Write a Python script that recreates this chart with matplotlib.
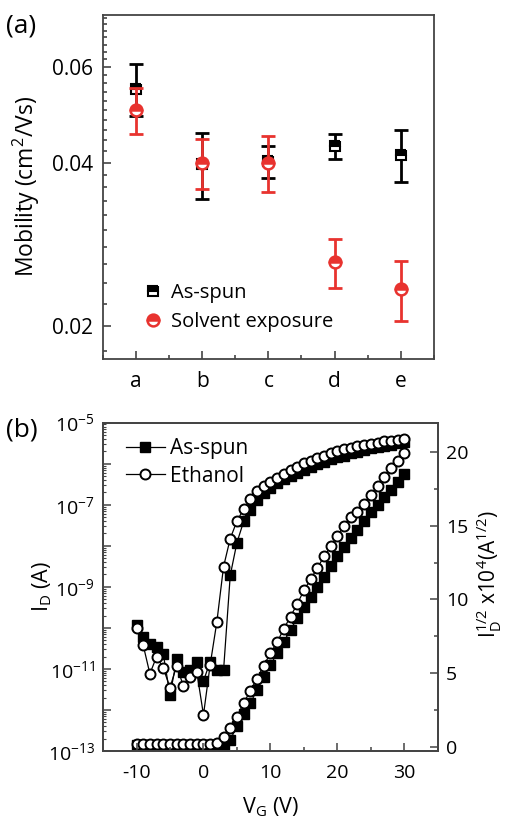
import math
import matplotlib
matplotlib.use("Agg")
import matplotlib.pyplot as plt
from matplotlib.lines import Line2D
from matplotlib.ticker import MultipleLocator, FixedLocator, LogLocator, FuncFormatter, NullFormatter

plt.rcParams['font.family'] = ['Open Sans', 'DejaVu Sans']
plt.rcParams['mathtext.default'] = 'regular'
plt.rcParams['axes.unicode_minus'] = False

# ---- panel (a) data
samples = ['a', 'b', 'c', 'd', 'e']
mob_asspun = [0.0547, 0.0398, 0.0402, 0.0429, 0.0414]
err_asspun = [0.0060, 0.0055, 0.0028, 0.0022, 0.0045]
mob_solvent = [0.0500, 0.0400, 0.0400, 0.0262, 0.0234]
err_solvent = [0.0048, 0.0043, 0.0047, 0.0027, 0.0030]

# ---- panel (b) data
vg = [-10, -9, -8, -7, -6, -5, -4, -3, -2, -1, 0, 1, 2, 3, 4, 5, 6, 7, 8, 9, 10,
      11, 12, 13, 14, 15, 16, 17, 18, 19, 20, 21, 22, 23, 24, 25, 26, 27, 28, 29, 30]
id_asspun = [1.2e-10, 5.9e-11, 4.0e-11, 3.4e-11, 2.3e-11, 2.3e-12, 1.7e-11, 8.3e-12, 9.3e-12,
             1.5e-11, 5.1e-12, 1.5e-11, 9.3e-12, 9.3e-12, 1.9e-9, 1.2e-8, 3.9e-8, 7.4e-8,
             1.3e-7, 1.9e-7, 2.5e-7, 3.3e-7, 4.2e-7, 5.0e-7, 6.0e-7, 7.2e-7, 8.5e-7, 9.8e-7,
             1.12e-6, 1.29e-6, 1.45e-6, 1.58e-6, 1.78e-6, 1.95e-6, 2.14e-6, 2.34e-6, 2.51e-6,
             2.69e-6, 2.88e-6, 3.16e-6, 3.39e-6]
id_ethanol = [9.8e-11, 3.8e-11, 7.6e-12, 2.0e-11, 1.05e-11, 3.5e-12, 1.2e-11, 3.8e-12, 6.2e-12,
              8.5e-12, 7.6e-13, 1.26e-11, 1.4e-10, 3.1e-9, 1.5e-8, 4.0e-8, 7.8e-8, 1.35e-7,
              2.1e-7, 2.8e-7, 3.5e-7, 4.4e-7, 5.6e-7, 7.1e-7, 8.5e-7, 1.02e-6, 1.17e-6, 1.38e-6,
              1.58e-6, 1.78e-6, 2.0e-6, 2.24e-6, 2.45e-6, 2.63e-6, 2.88e-6, 3.09e-6, 3.24e-6,
              3.47e-6, 3.63e-6, 3.80e-6, 3.89e-6]
sqrt_asspun = [0.1, 0.1, 0.1, 0.1, 0.1, 0.1, 0.1, 0.1, 0.1, 0.1, 0.1, 0.1, 0.1, 0.05, 0.45,
               1.4, 2.2, 2.95, 3.85, 4.76, 5.55, 6.34, 7.13, 7.93, 8.72, 9.47, 10.19, 10.87,
               11.55, 12.23, 12.91, 13.52, 14.16, 14.72, 15.29, 15.90, 16.42, 16.98, 17.44,
               18.0, 18.53]
sqrt_ethanol = [0.15, 0.15, 0.15, 0.15, 0.15, 0.15, 0.15, 0.15, 0.15, 0.15, 0.15, 0.15, 0.23,
                0.68, 1.25, 2.04, 2.95, 3.80, 4.6, 5.5, 6.34, 7.09, 8.0, 8.83, 9.69, 10.6,
                11.37, 12.12, 12.91, 13.59, 14.31, 15.0, 15.6, 15.9, 16.5, 17.1, 17.71, 18.34,
                18.91, 19.36, 19.93]

red = '#e8332f'
spine_col = '#444444'

fig = plt.figure(figsize=(5.05, 8.19), dpi=100)

# ================= (a)
ax = fig.add_axes([0.204, 0.5617, 0.655, 0.42])
xa = list(range(len(samples)))
ax.errorbar(xa, mob_asspun, yerr=err_asspun, fmt='none', ecolor='black',
            elinewidth=2, capsize=5, capthick=2, zorder=2)
ax.plot(xa, mob_asspun, 's', ms=7, mfc='black', mfcalt='white', fillstyle='top',
        mec='black', mew=1.5, zorder=2.5)
ax.errorbar(xa, mob_solvent, yerr=err_solvent, fmt='none', ecolor=red,
            elinewidth=2, capsize=5, capthick=2, zorder=3)
ax.plot(xa, mob_solvent, 'o', ms=8.5, mfc=red, mfcalt='white', fillstyle='top',
        mec=red, mew=1.8, zorder=3.5)
ax.set_yscale('log')
ax.set_ylim(0.0174, 0.0748)
ax.set_xlim(-0.5, 4.5)
ax.yaxis.set_major_locator(FixedLocator([0.02, 0.04, 0.06]))
ax.yaxis.set_major_formatter(FuncFormatter(lambda v, p: '%.2f' % v))
ax.yaxis.set_minor_locator(MultipleLocator(0.002))
ax.yaxis.set_minor_formatter(NullFormatter())
ax.set_xticks(xa)
ax.set_xticklabels(samples)
ax.xaxis.set_minor_locator(MultipleLocator(0.5))
ax.set_ylabel('Mobility (cm$^2$/Vs)', fontsize=16.5)
ax.yaxis.set_label_coords(-0.185, 0.5)
ax.tick_params(direction='in', which='both', labelsize=15, color=spine_col, width=1.2)
ax.tick_params(which='major', length=6, pad=7)
ax.tick_params(which='minor', length=3)
ax.tick_params(axis='x', pad=9)
for s in ax.spines.values():
    s.set_color(spine_col)
    s.set_linewidth(1.3)
h_a = [Line2D([], [], ls='none', marker='s', ms=7, mfc='black', mfcalt='white',
              fillstyle='top', mec='black', mew=1.5),
       Line2D([], [], ls='none', marker='o', ms=8.5, mfc=red, mfcalt='white',
              fillstyle='top', mec=red, mew=1.8)]
ax.legend(h_a, ['As-spun', 'Solvent exposure'], loc='lower left',
          bbox_to_anchor=(0.065, 0.025), frameon=False, numpoints=1, fontsize=14.5,
          handletextpad=0.4, labelspacing=0.45, handlelength=1.0)
fig.text(0.012, 0.968, '(a)', fontsize=19, va='center')

# ================= (b)
bx = fig.add_axes([0.204, 0.083, 0.663, 0.401])
bx2 = bx.twinx()
bx.set_zorder(bx2.get_zorder() + 1)
bx.patch.set_visible(False)

bx.plot(vg, id_asspun, '-s', color='black', lw=0.9, ms=6.5, mfc='black', mec='black',
        label='As-spun', zorder=2)
bx.plot(vg, id_ethanol, '-o', color='black', lw=0.9, ms=7.2, mfc='white', mec='black',
        mew=1.4, label='Ethanol', zorder=3)
bx2.plot(vg, sqrt_asspun, '-s', color='black', lw=0.9, ms=6.5, mfc='black', mec='black')
bx2.plot(vg, sqrt_ethanol, '-o', color='black', lw=0.9, ms=7.2, mfc='white', mec='black',
         mew=1.4)

bx.set_yscale('log')
bx.set_ylim(1e-13, 1e-5)
bx.set_xlim(-15, 35)
bx2.set_ylim(-0.3, 22)

bx.yaxis.set_major_locator(LogLocator(base=10, numticks=50))


def log_fmt(v, p):
    e = int(round(math.log10(v)))
    if e % 2 == 0:
        return ''
    return '10$^{%d}$' % e


bx.yaxis.set_major_formatter(FuncFormatter(log_fmt))
bx.yaxis.set_minor_locator(LogLocator(base=10, subs=[2, 3, 4, 5, 6, 7, 8, 9], numticks=200))
bx.yaxis.set_minor_formatter(NullFormatter())
bx.xaxis.set_major_locator(MultipleLocator(10))
bx.xaxis.set_minor_locator(MultipleLocator(5))
bx2.yaxis.set_major_locator(MultipleLocator(5))
bx2.yaxis.set_minor_locator(MultipleLocator(2.5))

for a in (bx, bx2):
    a.tick_params(direction='in', which='both', labelsize=14, color=spine_col, width=1.1)
    a.tick_params(which='major', length=6, pad=6)
    a.tick_params(which='minor', length=3)
    for s in a.spines.values():
        s.set_color(spine_col)
        s.set_linewidth(1.3)
bx.tick_params(axis='x', pad=9)
bx.tick_params(axis='y', which='minor', length=2.5, width=0.8)

bx.set_xlabel('V$_G$ (V)', fontsize=15.5, labelpad=10)
bx.set_ylabel('I$_D$ (A)', fontsize=15.5)
bx.yaxis.set_label_coords(-0.145, 0.5)
bx2.set_ylabel('I$_D^{1/2}$ x10$^4$(A$^{1/2}$)', fontsize=15)
bx2.yaxis.set_label_coords(1.108, 0.54)

bx.legend(loc='upper left', bbox_to_anchor=(0.03, 0.99), frameon=False, fontsize=15,
          handlelength=1.9, handletextpad=0.25, labelspacing=0.3, borderaxespad=0.2)
fig.text(0.012, 0.475, '(b)', fontsize=19, va='center')

fig.savefig('out.png', dpi=100)
